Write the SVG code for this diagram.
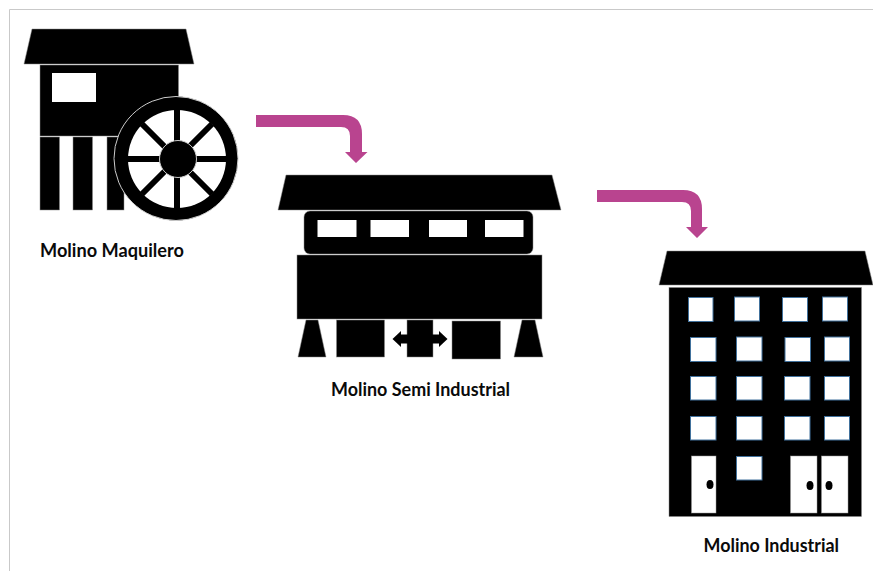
<svg xmlns="http://www.w3.org/2000/svg" width="873" height="571" viewBox="0 0 873 571">
<style>
.k{fill:#000;stroke:#8a8a8a;stroke-width:.5}
.w{fill:#fff}
.b{fill:#fff;stroke:#41719c;stroke-width:1}
.d{fill:#fff;stroke:#999;stroke-width:.5}
.s{stroke:#000;stroke-width:6;fill:none}
.a{fill:#b9448f}
.t{font-family:Lato,"Open Sans",sans-serif;font-weight:700;font-size:18px;fill:#0a0a0a}
</style>
<rect width="873" height="571" fill="#fff"/>
<path d="M9.500 571V9.500H873" fill="none" stroke="#c9c9c9" stroke-width="1"/>
<g id="connectors">
<path class="a" d="M256 115H343Q362 115 362 134V152H367.500L356 163L345 152H350V136Q350 127 341 127H256Z"/>
<path class="a" d="M597 190H683Q702 190 702 209V227H708L697 238L686 227H691V211Q691 202 682 202H597Z"/>
</g>
<g id="molino-maquilero">
<polygon class="k" points="32,29 186,29 194,64 24,64"/>
<rect class="k" x="40" y="65" width="138.500" height="71"/>
<rect class="w" x="52" y="73" width="44" height="29"/>
<rect class="k" x="40" y="137" width="19.500" height="73"/>
<rect class="k" x="73" y="137" width="19.500" height="73"/>
<rect class="k" x="107" y="137" width="17" height="73"/>
<circle cx="176" cy="158.500" r="62" fill="#000" stroke="#ccc" stroke-width="1"/>
<circle class="w" cx="177" cy="159" r="49"/>
<path class="s" d="M177 110V208M128 159H226M142 124L212 194M212 124L142 194"/>
<circle cx="178" cy="159" r="18.500" fill="#000" stroke="#ccc" stroke-width="1"/>
<text class="t" x="40" y="257" textLength="144" lengthAdjust="spacingAndGlyphs">Molino Maquilero</text>
</g>
<g id="molino-semi-industrial">
<polygon class="k" points="286,175 552,175 561,210 278,210"/>
<rect class="k" x="304" y="211" width="229" height="43" rx="6"/>
<rect class="w" x="317.500" y="220" width="39" height="17"/>
<rect class="w" x="370.500" y="220" width="38.500" height="17"/>
<rect class="w" x="429" y="220" width="38" height="17"/>
<rect class="w" x="485" y="220" width="38.500" height="17"/>
<rect class="k" x="297" y="255" width="245" height="64"/>
<polygon class="k" points="306,320 318,320 326,357 298,357"/>
<polygon class="k" points="522,320 535,320 543,357 514,357"/>
<rect class="k" x="336.500" y="320" width="48" height="37"/>
<rect class="k" x="452" y="321" width="48.500" height="38"/>
<rect class="k" x="407" y="320" width="26" height="37"/>
<polygon fill="#000" points="392.500,339 401,331 401,334.500 439,334.500 439,331 447.500,339 439,347 439,343.500 401,343.500 401,347"/>
<text class="t" x="331" y="396" textLength="179" lengthAdjust="spacingAndGlyphs">Molino Semi Industrial</text>
</g>
<g id="molino-industrial">
<polygon class="k" points="667,251 865,251 873,285 659,285"/>
<rect class="k" x="669" y="287.500" width="192.500" height="229"/>
<rect class="b" x="688.500" y="297.500" width="24.500" height="24"/>
<rect class="b" x="734.500" y="297" width="25" height="24"/>
<rect class="b" x="782.500" y="297.500" width="25" height="24"/>
<rect class="b" x="822.500" y="297" width="25" height="24"/>
<rect class="b" x="690.500" y="337.500" width="25.500" height="24"/>
<rect class="b" x="736.500" y="337" width="25.500" height="24"/>
<rect class="b" x="785" y="337.500" width="25.500" height="24"/>
<rect class="b" x="824.500" y="337" width="25" height="24"/>
<rect class="b" x="690.500" y="376.500" width="25.500" height="23.500"/>
<rect class="b" x="736.500" y="376.500" width="25.500" height="23.500"/>
<rect class="b" x="784.500" y="376.500" width="25.500" height="23.500"/>
<rect class="b" x="824.500" y="376.500" width="25" height="23.500"/>
<rect class="b" x="690.500" y="416.500" width="25.500" height="23.500"/>
<rect class="b" x="736.500" y="416.500" width="25.500" height="23.500"/>
<rect class="b" x="784.500" y="416.500" width="25.500" height="23.500"/>
<rect class="b" x="824.500" y="416.500" width="25" height="23.500"/>
<rect class="b" x="736.500" y="456.500" width="25.500" height="23.500"/>
<rect class="d" x="691.500" y="456" width="24.500" height="57"/>
<rect class="d" x="790.500" y="456" width="26.500" height="57"/>
<rect class="d" x="821.500" y="456" width="26.500" height="57"/>
<ellipse cx="710" cy="484.500" rx="3.500" ry="4.500"/>
<ellipse cx="810" cy="485.500" rx="3.500" ry="4.500"/>
<ellipse cx="829" cy="485.500" rx="3.500" ry="4.500"/>
<text class="t" x="703.500" y="552" textLength="135.500" lengthAdjust="spacingAndGlyphs">Molino Industrial</text>
</g>
</svg>
